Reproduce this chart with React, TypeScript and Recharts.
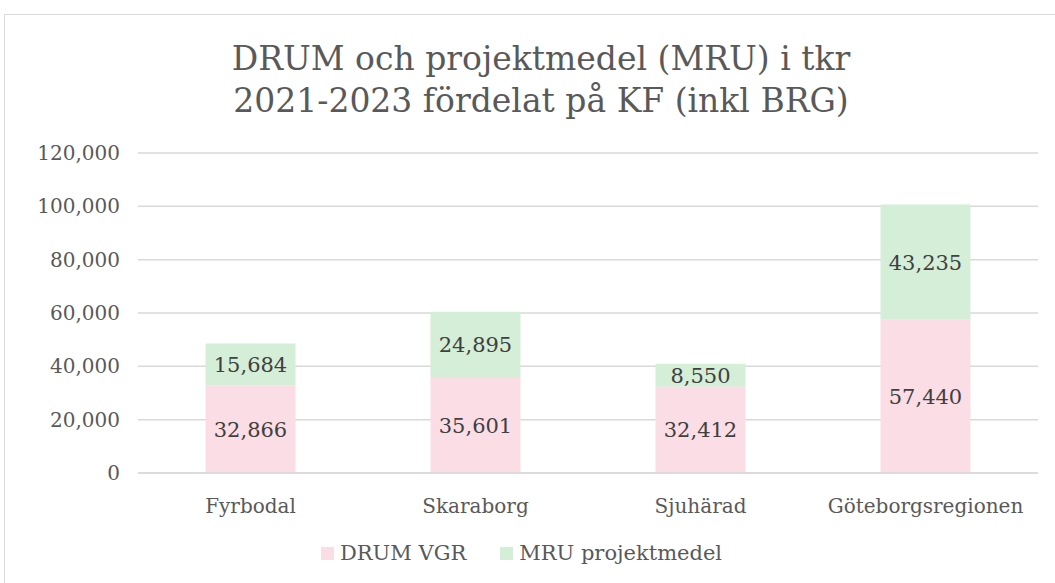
import { BarChart, Bar, XAxis, YAxis, CartesianGrid, Legend, LabelList } from "recharts";

const regions = ["Fyrbodal", "Skaraborg", "Sjuhärad", "Göteborgsregionen"];
const drumVgr = [32866, 35601, 32412, 57440];
const mruProjektmedel = [15684, 24895, 8550, 43235];
const yTicks = [0, 20000, 40000, 60000, 80000, 100000, 120000];

const data = regions.map((name, i) => ({
  name,
  drum: drumVgr[i],
  mru: mruProjektmedel[i],
}));

const FONT = "Georgia, 'DejaVu Serif', serif";
const fmt = (v: any) => Number(v).toLocaleString("en-US");

const LegendContent = (props: any) => (
  <div style={{ display: "flex", justifyContent: "center", gap: 34 }}>
    {props.payload.map((p: any) => (
      <div key={p.value} style={{ display: "flex", alignItems: "center", gap: 6 }}>
        <span style={{ width: 13, height: 13, background: p.color, display: "inline-block" }} />
        <span style={{ color: "#595959", fontSize: 21, fontFamily: FONT }}>{p.value}</span>
      </div>
    ))}
  </div>
);

export default function App() {
  return (
    <div
      style={{
        position: "absolute",
        left: 4,
        top: 14,
        width: 1060,
        height: 580,
        border: "1px solid #d9d9d9",
        background: "#fff",
        fontFamily: FONT,
      }}
    >
      <div
        style={{
          position: "absolute",
          left: 0,
          top: 23,
          width: 1072,
          textAlign: "center",
          fontSize: 33,
          lineHeight: "42px",
          color: "#595959",
        }}
      >
        DRUM och projektmedel (MRU) i tkr
        <br />
        2021-2023 fördelat på KF (inkl BRG)
      </div>
      <BarChart
        width={1050}
        height={568}
        data={data}
        margin={{ top: 138, right: 17, left: 0, bottom: 70 }}
        barCategoryGap="30%"
        style={{ position: "absolute", left: 0, top: 0 }}
      >
        <CartesianGrid vertical={false} stroke="#d9d9d9" strokeWidth={1.5} />
        <XAxis
          dataKey="name"
          height={40}
          axisLine={{ stroke: "#d9d9d9", strokeWidth: 1.5 }}
          tickLine={false}
          tickMargin={20}
          tick={{ fill: "#595959", fontSize: 20, fontFamily: FONT }}
        />
        <YAxis
          width={133}
          domain={[0, 120000]}
          ticks={yTicks}
          axisLine={false}
          tickLine={false}
          tickMargin={12}
          tickFormatter={fmt}
          tick={{ fill: "#595959", fontSize: 20, fontFamily: FONT }}
        />
        <Legend
          layout="horizontal"
          verticalAlign="middle"
          align="center"
          content={LegendContent}
          wrapperStyle={{ top: 526 }}
        />
        <Bar dataKey="drum" name="DRUM VGR" stackId="a" fill="#fbdde6" isAnimationActive={false}>
          <LabelList dataKey="drum" position="center" formatter={fmt} fill="#404040" fontSize={21} fontFamily={FONT} />
        </Bar>
        <Bar dataKey="mru" name="MRU projektmedel" stackId="a" fill="#d5eed8" isAnimationActive={false}>
          <LabelList dataKey="mru" position="center" formatter={fmt} fill="#404040" fontSize={21} fontFamily={FONT} />
        </Bar>
      </BarChart>
    </div>
  );
}
